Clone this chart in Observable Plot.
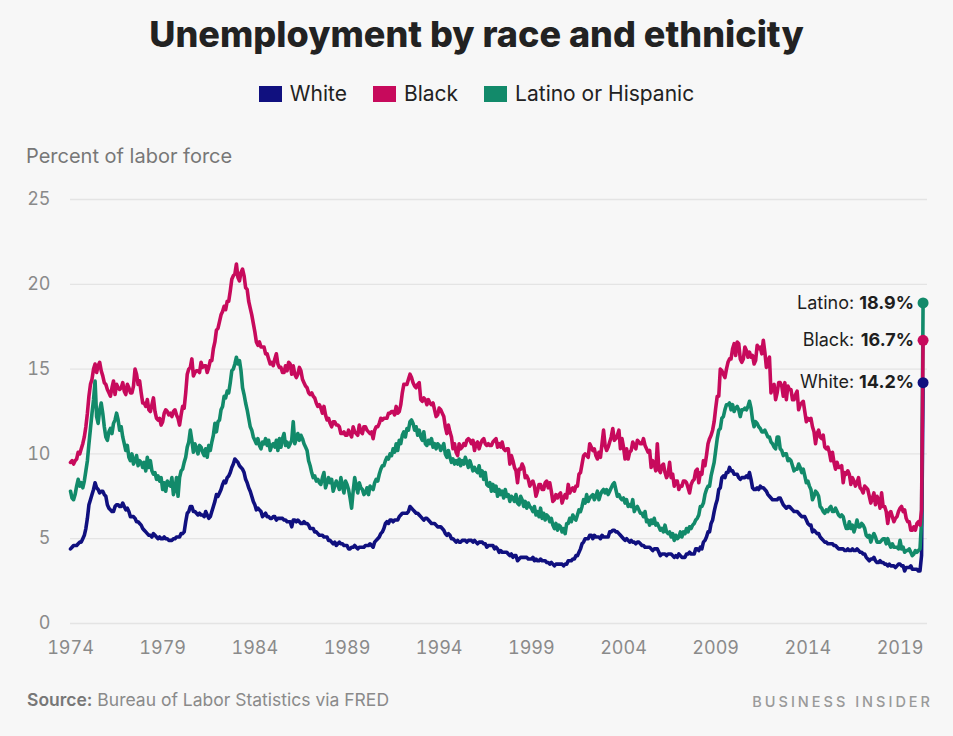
<!DOCTYPE html>
<html>
<head>
<meta charset="utf-8">
<script src="https://cdn.jsdelivr.net/npm/d3@7"></script>
<script src="https://cdn.jsdelivr.net/npm/@observablehq/plot@0.6"></script>
<style>
  html, body { margin: 0; padding: 0; }
  body {
    width: 953px; height: 736px; position: relative; overflow: hidden;
    background: #f7f7f7; font-family: Inter, "Noto Sans", sans-serif;
  }
  .abs { position: absolute; white-space: nowrap; }
  #title {
    left: 0; width: 953px; text-align: center; top: 16px;
    font-size: 36px; line-height: 36px; font-weight: 800; color: #222; letter-spacing: 0px;
  }
  #legend {
    left: 0; width: 953px; top: 83px; display: flex; justify-content: center;
    font-size: 21px; line-height: 21px; color: #222;
  }
  #legend .item { display: flex; align-items: center; margin: 0 13px; }
  #legend .sw { width: 23px; height: 16px; margin-right: 8px; }
  #ylabel { left: 26px; top: 146px; font-size: 20px; line-height: 20px; color: #777; }
  #chart { left: 0; top: 130px; }
  #source { left: 27px; top: 691px; font-size: 17.5px; line-height: 18px; color: #8a8a8a; }
  #source b { font-weight: 600; color: #777; }
  #brand {
    right: 20px; top: 694px; font-size: 14.5px; line-height: 15px; color: #9a9a9a;
    letter-spacing: 3px; font-weight: 500;
  }
</style>
</head>
<body>
<div id="title" class="abs">Unemployment by race and ethnicity</div>
<div id="legend" class="abs"></div>
<div id="ylabel" class="abs">Percent of labor force</div>
<div id="chart" class="abs"></div>
<div id="source" class="abs"><b>Source:</b> Bureau of Labor Statistics via FRED</div>
<div id="brand" class="abs">BUSINESS INSIDER</div>
<script>
// Monthly unemployment rates (%), January 1974 through April 2020
const startYear = 1974;

const whiteRate = [
  4.4,4.5,4.6,4.6,4.6,4.7,4.8,4.8,5.0,5.2,5.6,6.2,
  7.0,7.3,7.6,7.9,8.3,8.0,7.9,7.7,7.8,7.8,7.6,7.5,
  7.0,6.8,6.7,6.6,6.6,6.9,7.0,7.0,6.9,6.9,7.1,6.9,
  6.7,6.8,6.6,6.3,6.3,6.3,6.2,6.0,6.0,5.9,5.8,5.6,
  5.5,5.4,5.3,5.2,5.2,5.1,5.3,5.2,5.1,5.0,5.1,5.0,
  5.0,5.1,5.0,5.0,4.9,4.9,4.9,5.0,5.0,5.1,5.1,5.1,
  5.3,5.3,5.4,6.0,6.5,6.6,6.9,6.9,6.6,6.6,6.5,6.4,
  6.5,6.4,6.4,6.3,6.6,6.4,6.2,6.3,6.6,6.9,7.2,7.6,
  7.5,7.7,7.9,8.2,8.4,8.3,8.6,8.7,8.9,9.2,9.4,9.7,
  9.6,9.5,9.3,9.2,9.1,8.9,8.5,8.3,8.0,7.8,7.5,7.2,
  7.0,6.7,6.8,6.7,6.6,6.3,6.4,6.5,6.3,6.3,6.2,6.2,
  6.3,6.3,6.1,6.2,6.2,6.2,6.2,6.1,6.1,6.0,6.0,6.0,
  5.7,6.1,6.1,6.0,6.1,6.0,5.9,5.9,6.0,5.9,5.9,5.8,
  5.6,5.6,5.6,5.4,5.4,5.3,5.2,5.2,5.2,5.1,5.1,5.1,
  4.9,4.9,4.8,4.7,4.8,4.6,4.7,4.8,4.7,4.7,4.6,4.6,
  4.6,4.4,4.4,4.5,4.5,4.6,4.5,4.4,4.5,4.5,4.5,4.5,
  4.6,4.6,4.6,4.7,4.6,4.5,4.8,4.9,5.0,5.1,5.3,5.4,
  5.6,5.9,6.0,5.9,6.1,6.1,6.0,6.1,6.1,6.1,6.3,6.4,
  6.5,6.5,6.5,6.5,6.6,6.9,6.8,6.7,6.6,6.5,6.5,6.4,
  6.3,6.2,6.1,6.2,6.2,6.1,6.0,5.9,5.9,5.9,5.8,5.7,
  5.7,5.7,5.6,5.5,5.3,5.2,5.3,5.2,5.0,5.0,4.9,4.8,
  4.9,4.8,4.8,4.9,4.9,4.9,4.8,4.9,4.9,4.9,4.8,4.9,
  4.8,4.7,4.8,4.8,4.8,4.7,4.7,4.5,4.6,4.6,4.6,4.6,
  4.4,4.5,4.4,4.2,4.3,4.2,4.2,4.2,4.2,4.1,4.0,4.1,
  3.9,4.0,4.0,3.7,3.8,3.9,3.9,3.9,3.9,3.9,3.8,3.8,
  3.8,3.9,3.7,3.8,3.7,3.7,3.8,3.7,3.7,3.7,3.6,3.6,
  3.5,3.6,3.5,3.4,3.5,3.5,3.5,3.5,3.5,3.4,3.5,3.5,
  3.7,3.7,3.7,3.8,3.8,4.0,4.0,4.2,4.4,4.7,4.8,5.0,
  5.0,5.0,5.2,5.2,5.0,5.2,5.1,5.1,5.1,5.0,5.2,5.1,
  5.1,5.1,5.1,5.4,5.4,5.5,5.5,5.4,5.4,5.3,5.2,5.1,
  5.0,4.9,5.0,4.9,4.8,4.9,4.8,4.8,4.7,4.8,4.8,4.7,
  4.6,4.6,4.5,4.5,4.5,4.5,4.4,4.3,4.4,4.4,4.4,4.2,
  4.0,4.1,4.1,4.1,4.0,4.1,4.1,4.1,4.0,3.9,4.0,3.9,
  4.1,4.0,3.9,3.9,3.9,4.1,4.1,4.2,4.1,4.1,4.1,4.4,
  4.4,4.3,4.5,4.4,4.8,4.9,5.1,5.4,5.4,5.9,6.1,6.6,
  7.0,7.3,7.9,8.0,8.6,8.7,8.6,8.9,8.9,9.2,9.0,9.0,
  8.8,8.8,8.8,8.6,8.5,8.6,8.6,8.6,8.7,8.6,8.9,8.5,
  8.0,7.9,7.9,8.0,7.9,8.1,8.0,8.0,7.9,7.8,7.6,7.5,
  7.4,7.3,7.3,7.3,7.3,7.4,7.4,7.2,7.0,6.9,6.8,6.9,
  6.9,6.8,6.7,6.6,6.6,6.6,6.5,6.4,6.3,6.3,6.3,6.1,
  5.9,5.8,5.8,5.4,5.5,5.4,5.3,5.3,5.1,5.0,4.9,4.8,
  4.8,4.7,4.7,4.7,4.7,4.6,4.6,4.5,4.4,4.4,4.4,4.4,
  4.3,4.3,4.4,4.3,4.3,4.4,4.3,4.3,4.4,4.3,4.2,4.2,
  4.1,4.1,3.9,3.8,3.7,3.8,3.8,3.9,3.7,3.6,3.6,3.7,
  3.6,3.6,3.5,3.5,3.4,3.5,3.4,3.4,3.4,3.3,3.4,3.5,
  3.5,3.4,3.4,3.1,3.3,3.3,3.3,3.4,3.2,3.2,3.2,3.2,
  3.1,3.1,4.0,14.2
];

const blackRate = [
  9.5,9.6,9.4,9.6,9.7,10.1,10.0,10.3,10.6,11.0,11.6,12.4,
  13.4,14.1,14.4,15.0,15.3,14.8,15.2,15.4,14.9,14.6,14.2,14.1,
  13.8,13.6,13.4,13.9,14.3,13.5,14.1,13.9,13.8,13.9,14.2,13.7,
  13.5,14.1,13.9,13.6,13.6,14.0,15.0,14.7,14.1,14.3,13.6,13.0,
  13.0,12.8,13.2,12.6,12.5,12.9,13.3,12.5,12.1,12.0,12.1,11.7,
  11.9,12.4,12.6,12.5,12.3,12.4,12.2,12.5,12.6,12.3,12.1,11.7,
  12.3,12.8,12.7,13.6,14.7,15.0,15.1,15.6,14.6,14.8,14.9,14.9,
  14.8,15.4,15.1,15.2,15.2,14.8,15.1,15.5,15.5,16.2,16.6,17.3,
  17.4,17.8,18.2,18.4,18.7,18.5,19.0,19.0,19.6,20.3,20.5,20.6,
  21.2,20.4,20.2,20.7,20.9,20.5,19.8,19.7,19.0,18.6,18.2,17.7,
  17.2,16.6,16.4,16.6,16.3,16.3,16.3,15.9,15.9,15.6,15.3,15.4,
  15.2,15.6,15.9,15.3,15.1,15.1,14.8,14.8,15.2,14.9,15.4,15.3,
  14.7,15.2,14.7,14.5,14.7,15.1,14.9,14.4,14.2,14.0,13.9,13.6,
  13.5,13.6,13.4,13.3,13.0,12.8,12.9,12.7,12.4,12.8,12.3,12.0,
  12.1,11.8,11.6,11.9,11.9,11.7,11.7,11.6,11.2,11.2,11.3,11.1,
  11.1,11.4,11.2,11.0,11.6,11.3,11.2,11.1,11.7,11.3,11.2,11.6,
  11.6,11.4,11.3,11.2,11.3,10.9,11.4,11.6,11.6,11.8,12.1,12.0,
  12.1,12.1,12.1,12.4,12.4,12.5,12.5,12.3,12.8,12.4,12.5,12.9,
  13.6,14.1,14.1,14.1,14.4,14.7,14.5,14.2,14.0,13.9,14.1,14.2,
  13.2,13.1,13.3,13.2,12.9,13.2,13.0,12.9,13.0,12.6,12.2,12.3,
  12.7,12.6,12.4,12.2,11.6,11.2,11.7,11.3,11.0,10.3,10.6,10.1,
  9.9,10.6,10.3,10.4,10.6,10.5,10.8,10.9,10.8,10.6,10.8,10.2,
  10.6,10.7,10.3,10.6,10.8,10.9,10.6,10.5,10.6,10.5,10.5,10.7,
  10.8,10.9,10.4,10.6,10.4,10.7,10.3,10.2,10.3,10.3,9.4,9.9,
  9.6,9.2,9.0,8.3,9.1,9.1,9.4,9.2,8.6,8.7,8.5,8.1,
  8.3,8.4,8.1,7.5,7.8,8.2,8.2,7.9,7.9,8.3,8.4,8.0,
  8.3,7.8,7.2,7.3,7.6,7.4,7.6,7.7,7.1,7.4,7.6,7.4,
  8.2,7.7,7.9,8.0,7.8,8.1,8.1,8.8,8.9,9.4,9.9,10.0,
  9.9,9.8,10.6,10.4,10.2,10.3,9.9,9.7,10.1,9.8,10.6,11.4,
  10.5,10.2,10.4,10.7,11.0,11.5,10.8,10.9,11.1,11.4,10.3,10.9,
  10.4,9.7,10.3,9.7,10.1,10.2,10.7,10.5,10.3,10.8,10.7,10.6,
  10.6,10.9,10.5,10.3,10.1,10.2,9.2,9.6,9.4,9.0,10.6,9.1,
  8.9,9.3,9.4,8.9,8.6,8.8,9.5,8.6,8.8,8.1,8.4,8.4,
  7.9,8.1,8.1,8.4,8.4,8.3,8.0,7.7,8.2,8.4,8.5,9.0,
  9.1,8.3,8.9,8.8,9.6,9.3,9.9,10.6,10.9,11.1,11.4,11.9,
  12.7,13.4,13.4,15.0,14.9,14.7,14.5,15.0,15.4,15.6,15.6,16.2,
  16.5,15.8,16.6,16.5,15.6,15.4,15.6,16.3,16.1,15.7,16.0,15.7,
  15.8,15.3,15.5,16.4,16.2,16.3,15.9,16.7,16.0,15.1,15.5,15.7,
  13.6,14.0,14.1,13.2,13.6,14.2,14.2,14.0,13.4,14.2,13.2,14.0,
  13.8,13.8,13.2,13.2,13.5,13.7,12.6,12.9,13.0,13.1,12.5,11.9,
  12.1,12.0,12.1,11.6,11.3,10.6,11.2,11.4,11.0,10.9,11.1,10.4,
  10.3,10.4,10.1,9.6,10.1,9.5,9.1,9.5,9.2,9.2,9.3,8.3,
  8.9,8.8,9.0,8.8,8.2,8.6,8.4,8.1,8.3,8.6,8.0,7.9,
  7.7,8.1,8.0,7.9,7.5,7.1,7.4,7.7,7.0,7.5,7.3,6.8,
  7.7,6.9,6.9,6.6,5.9,6.5,6.6,6.3,6.0,6.2,6.3,6.6,
  6.8,6.9,6.6,6.7,6.2,6.0,6.0,5.5,5.5,5.7,5.5,5.9,
  6.0,5.8,6.7,16.7
];

const latinoRate = [
  7.8,7.4,7.3,7.6,8.1,8.5,8.1,8.3,8.0,8.4,9.0,9.6,
  10.6,11.5,12.4,13.2,14.3,12.2,11.8,12.6,13.0,12.4,11.6,11.0,
  10.8,11.3,11.5,11.2,11.8,12.0,12.4,12.0,11.4,11.6,11.0,10.6,
  10.2,10.5,9.8,9.6,10.0,9.4,9.6,9.9,9.3,9.6,9.5,9.2,
  9.5,9.0,9.8,9.2,9.6,9.0,8.8,8.9,8.5,8.7,8.4,8.6,
  7.9,8.3,7.8,8.4,8.2,8.1,8.6,7.6,7.9,8.6,7.5,8.6,
  9.0,9.1,9.5,9.8,10.4,10.7,11.4,10.8,10.1,10.6,10.3,10.0,
  10.5,10.4,10.1,9.9,10.3,9.8,10.5,10.2,10.7,11.1,11.8,11.3,
  11.9,12.0,12.6,12.8,13.4,13.3,13.7,13.6,14.2,14.9,15.0,15.3,
  15.7,15.3,15.5,14.9,13.9,13.5,13.0,12.6,12.1,11.6,11.4,11.0,
  10.8,10.6,10.9,10.5,10.3,10.7,10.6,10.9,10.5,10.8,10.2,10.5,
  10.6,10.4,10.8,10.2,10.9,10.4,10.9,11.2,10.5,10.7,10.4,10.6,
  10.8,11.9,10.6,10.9,11.2,10.8,11.1,10.9,10.6,10.4,10.2,9.6,
  9.3,8.9,8.6,8.7,8.4,8.5,8.3,8.2,8.6,8.9,8.0,8.3,
  8.6,8.3,8.5,7.8,8.1,8.4,8.2,7.9,8.6,8.1,7.7,8.4,
  8.2,7.9,7.4,6.8,7.8,8.6,8.1,7.7,8.3,8.0,7.9,7.6,
  7.7,8.0,7.6,8.1,8.0,7.9,8.3,8.5,8.4,8.8,9.1,9.3,
  9.3,9.6,9.8,9.7,10.0,9.9,10.3,10.1,10.6,10.2,10.8,10.6,
  11.1,11.3,11.0,11.5,11.4,11.9,12.0,11.8,11.4,11.6,11.1,11.4,
  11.0,10.8,11.3,10.6,10.5,10.8,10.6,10.9,10.4,10.6,10.3,10.6,
  10.5,10.2,10.4,10.6,10.0,9.8,10.2,9.8,9.5,9.7,9.4,9.6,
  9.4,9.7,9.3,9.6,9.4,9.8,9.5,9.2,9.6,9.3,9.0,9.2,
  9.0,8.9,9.3,8.7,9.0,8.5,8.9,8.2,8.1,8.3,7.8,8.2,
  7.8,8.1,7.5,7.9,7.6,7.8,7.4,7.9,7.5,7.6,7.2,7.5,
  7.4,7.2,7.6,7.1,7.0,7.5,7.3,6.9,7.2,6.8,7.1,6.9,
  6.8,6.6,6.9,6.4,6.6,6.3,6.8,6.2,6.5,6.1,6.4,6.3,
  6.0,6.2,5.8,5.6,5.9,5.5,5.8,5.7,5.4,5.6,5.3,5.9,
  5.9,6.2,6.0,6.4,6.2,6.1,6.4,6.7,6.6,6.9,7.3,7.1,
  7.6,7.2,7.4,7.5,7.6,7.3,7.5,7.8,7.3,7.6,7.8,7.9,
  7.7,7.9,7.6,7.8,8.0,8.2,8.3,7.9,7.5,7.6,7.4,7.3,
  7.4,7.1,7.3,6.9,7.0,6.9,7.3,6.6,6.8,6.9,6.7,6.5,
  6.5,6.3,6.6,6.0,6.1,5.8,6.1,5.9,6.2,5.8,5.9,5.7,
  5.5,5.6,5.4,5.8,5.4,5.3,5.4,5.1,5.3,4.9,5.2,5.0,
  5.1,5.4,5.1,5.4,5.3,5.6,5.4,5.7,5.6,5.8,5.9,6.1,
  6.2,6.4,6.9,6.9,7.1,7.6,7.9,8.1,8.1,8.7,9.1,9.5,
  10.2,10.9,11.4,11.5,12.1,12.2,12.6,12.9,12.9,13.0,12.6,12.9,
  12.5,12.7,12.8,12.6,12.2,12.6,12.6,12.7,12.6,12.8,13.1,12.7,
  12.0,11.6,11.9,11.8,11.6,11.5,11.3,11.3,11.4,11.2,11.0,11.0,
  10.7,10.6,10.4,10.3,11.0,11.0,10.3,10.2,9.9,10.0,10.0,9.6,
  9.7,9.6,9.3,9.0,9.1,9.1,9.4,9.2,8.9,9.1,8.7,8.3,
  8.4,8.1,7.9,7.3,7.5,7.8,7.7,7.5,6.9,6.8,6.6,6.5,
  6.7,6.6,6.8,6.9,6.6,6.6,6.8,6.6,6.4,6.3,6.4,6.3,
  5.9,5.6,5.6,6.0,5.6,5.8,5.4,5.7,6.1,5.7,5.7,5.9,
  5.8,5.6,5.2,5.1,5.2,4.8,5.1,5.3,5.1,4.8,4.8,4.8,
  4.9,5.0,5.0,4.7,5.0,4.7,4.5,4.7,4.5,4.5,4.5,4.4,
  4.9,4.4,4.5,4.2,4.3,4.3,4.4,4.2,4.0,4.1,4.3,4.2,
  4.3,4.4,6.0,18.9
];

const seriesNames = ["White", "Black", "Latino or Hispanic"];
const shortNames = ["White", "Black", "Latino"];
const seriesColors = ["#10107f", "#c70a5c", "#128a6a"];
const yTicks = [0, 5, 10, 15, 20, 25];
const xTicks = [1974, 1979, 1984, 1989, 1994, 1999, 2004, 2009, 2014, 2019];

// Legend
const legend = document.getElementById("legend");
seriesNames.forEach((name, i) => {
  const item = document.createElement("div");
  item.className = "item";
  item.innerHTML = `<span class="sw" style="background:${seriesColors[i]}"></span><span>${name}</span>`;
  legend.appendChild(item);
});

// Long-format rows per series; t is the fractional year of each month
const toRows = (vals, k) => vals.map((v, i) => ({k, t: startYear + i / 12, v}));
const rows = [whiteRate, blackRate, latinoRate].map(toRows);
const last = rows.map((r, k) => ({...r[r.length - 1], name: shortNames[k]}));

// Width of the bold value text, so the name can sit just before it
const ctx = document.createElement("canvas").getContext("2d");
ctx.font = "700 18px Inter";
const valueWidth = ctx.measureText("18.9%").width;
const dotGap = 9;

// Draw order: White, Latino, Black
const order = [0, 2, 1];

const chart = Plot.plot({
  width: 953,
  height: 540,
  marginTop: 69,
  marginBottom: 47,
  marginLeft: 70,
  marginRight: 26,
  style: {background: "transparent", color: "#8a8a8a", fontSize: "18px", fontFamily: "Inter, sans-serif"},
  x: {domain: [1974, 2020.49], ticks: xTicks, tickFormat: d => String(d), tickSize: 0, tickPadding: 18, label: null},
  y: {domain: [0, 25], ticks: yTicks, tickSize: 0, tickPadding: 20, label: null},
  marks: [
    Plot.ruleY(yTicks, {stroke: "#e4e4e4", strokeWidth: 1.3}),
    ...order.map(k => Plot.line(rows[k], {
      x: "t", y: "v", stroke: seriesColors[k], strokeWidth: 3.6,
      strokeLinejoin: "round", strokeLinecap: "round"
    })),
    Plot.dot(last, {x: "t", y: "v", r: 5.5, fill: d => seriesColors[d.k], stroke: "none"}),
    Plot.text(last, {
      x: "t", y: "v", text: d => d.v.toFixed(1) + "%", textAnchor: "end",
      dx: -dotGap, fontWeight: 700, fill: "#1e1e1e", fontSize: 18
    }),
    Plot.text(last, {
      x: "t", y: "v", text: d => d.name + ":", textAnchor: "end",
      dx: -dotGap - valueWidth - 5, fill: "#1e1e1e", fontSize: 18
    })
  ]
});
document.getElementById("chart").appendChild(chart);
</script>
</body>
</html>
